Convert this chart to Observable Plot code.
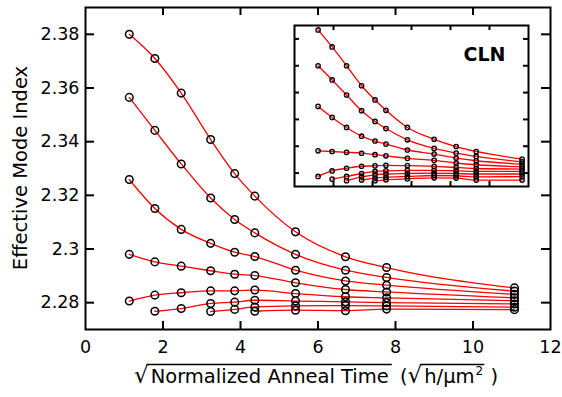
<!DOCTYPE html>
<html><head><meta charset="utf-8">
<script src="https://cdn.jsdelivr.net/npm/d3@7"></script>
<script src="https://cdn.jsdelivr.net/npm/@observablehq/plot@0.6"></script>
<style>
body{margin:0;background:#fff;}
#wrap{position:relative;width:562px;height:397px;}
#inset{position:absolute;left:292px;top:23px;}
</style></head><body><div id="wrap"><div id="main"></div><div id="inset"></div></div>
<script>
// ---- main chart data (sqrt normalized anneal time vs effective mode index)
const xMain = [1.13, 1.79, 2.47, 3.23, 3.85, 4.37, 5.42, 6.71, 7.77, 11.07];
const mainA = [2.3800, 2.3710, 2.3581, 2.3408, 2.3281, 2.3197, 2.3064, 2.2971, 2.2931, 2.2855];
const mainB = [2.3565, 2.3442, 2.3317, 2.3190, 2.3110, 2.3060, 2.2980, 2.2921, 2.2894, 2.2843];
const mainC = [2.3259, 2.3151, 2.3073, 2.3021, 2.2988, 2.2972, 2.2921, 2.2881, 2.2865, 2.2831];
const mainD = [2.2980, 2.2952, 2.2936, 2.2919, 2.2906, 2.2901, 2.2874, 2.2849, 2.2840, 2.2818];
const mainE = [2.2806, 2.2828, 2.2837, 2.2844, 2.2844, 2.2847, 2.2834, 2.2822, 2.2818, 2.2807];
const mainF = [null, 2.2768, 2.2778, 2.2797, 2.2802, 2.2809, 2.2806, 2.2803, 2.2800, 2.2795];
const mainG = [null, null, null, 2.2767, 2.2775, 2.2784, 2.2788, 2.2789, 2.2788, 2.2783];
const mainH = [null, null, null, null, null, 2.2768, 2.2772, 2.2770, 2.2776, 2.2774];

// ---- inset (CLN) data
const xInset = [1.21, 1.93, 2.67, 3.44, 4.13, 4.69, 5.79, 7.16, 8.29, 9.32, 11.67];
const cln1 = [2.3867, 2.3740, 2.3600, 2.3451, 2.3345, 2.3268, 2.3140, 2.3052, 2.2998, 2.2961, 2.2904];
const cln2 = [2.3600, 2.3494, 2.3382, 2.3265, 2.3185, 2.3132, 2.3048, 2.2984, 2.2949, 2.2924, 2.2884];
const cln3 = [2.3297, 2.3215, 2.3140, 2.3075, 2.3039, 2.3016, 2.2972, 2.2942, 2.2912, 2.2892, 2.2867];
const cln4 = [2.2966, 2.2961, 2.2955, 2.2948, 2.2937, 2.2929, 2.2910, 2.2895, 2.2875, 2.2862, 2.2847];
const cln5 = [2.2775, 2.2816, 2.2836, 2.2851, 2.2854, 2.2858, 2.2856, 2.2850, 2.2842, 2.2834, 2.2830];
const cln6 = [null, 2.2755, 2.2775, 2.2797, 2.2812, 2.2817, 2.2820, 2.2820, 2.2817, 2.2812, 2.2812];
const cln7 = [null, null, 2.2743, 2.2772, 2.2787, 2.2793, 2.2797, 2.2799, 2.2797, 2.2793, 2.2793];
const cln8 = [null, null, null, 2.2748, 2.2763, 2.2769, 2.2775, 2.2782, 2.2780, 2.2772, 2.2773];
const cln9 = [null, null, null, null, 2.2743, 2.2750, 2.2757, 2.2765, 2.2763, 2.2748, 2.2748];

// ---- ticks and labels
const xTicks = [0, 2, 4, 6, 8, 10, 12];
const xTickLabels = ["0", "2", "4", "6", "8", "10", "12"];
const yTicks = [2.28, 2.30, 2.32, 2.34, 2.36, 2.38];
const yTickLabels = ["2.28", "2.3", "2.32", "2.34", "2.36", "2.38"];
const yTitle = "Effective Mode Index";
const xTitleParts = ["√", "Normalized Anneal Time", " (", "√", "h/µm", "2", " )"];
const insetLabel = "CLN";

function toRows(xs, list) {
  const rows = [];
  list.forEach((ys, k) => ys.forEach((y, i) => { if (y != null) rows.push({x: xs[i], y, s: k}); }));
  return rows;
}
const mainRows = toRows(xMain, [mainA, mainB, mainC, mainD, mainE, mainF, mainG, mainH]);
const insetRows = toRows(xInset, [cln1, cln2, cln3, cln4, cln5, cln6, cln7, cln8, cln9]);

const W = 562, H = 397, mL = 85, mR = 12, mT = 7, mB = 68;
const fW = W - mL - mR, fH = H - mT - mB;
const inner = xTicks.slice(1, -1);

const main = Plot.plot({
  width: W, height: H,
  marginLeft: mL, marginRight: mR, marginTop: mT, marginBottom: mB,
  style: {fontFamily: "DejaVu Sans", fontSize: "17.5px", color: "#000", background: "#fff"},
  x: {domain: [0, 12]},
  y: {domain: [2.27, 2.39]},
  marks: [
    Plot.axisX(xTicks, {tickSize: 0, tickPadding: 11, tickFormat: d => xTickLabels[xTicks.indexOf(d)], label: null}),
    Plot.axisY(yTicks, {tickSize: 0, tickPadding: 6, tickFormat: d => yTickLabels[yTicks.indexOf(d)], label: null}),
    Plot.tickX(inner, {x: d => d, insetTop: fH - 8, strokeWidth: 2, stroke: "#000"}),
    Plot.tickX(inner, {x: d => d, insetBottom: fH - 8, strokeWidth: 2, stroke: "#000"}),
    Plot.tickY(yTicks, {y: d => d, insetRight: fW - 9, strokeWidth: 2, stroke: "#000"}),
    Plot.tickY(yTicks, {y: d => d, insetLeft: fW - 9, strokeWidth: 2, stroke: "#000"}),
    Plot.line(mainRows, {x: "x", y: "y", z: "s", stroke: "#ff0000", strokeWidth: 1.3, curve: "monotone-x"}),
    Plot.dot(mainRows, {x: "x", y: "y", r: 3.8, stroke: "#000", strokeWidth: 1.5, fill: "none"}),
    Plot.frame({strokeWidth: 2, stroke: "#000"})
  ]
});
document.getElementById("main").append(main);

// y-axis title
d3.select(main).append("text")
  .attr("transform", `translate(20,${mT + fH / 2}) rotate(-90)`)
  .attr("text-anchor", "middle").attr("dy", "0.35em")
  .attr("font-family", "DejaVu Sans").attr("font-size", 19.5).attr("fill", "#000")
  .text(yTitle);

// x-axis title with radical overlines
{
  const g = d3.select(main).append("g")
    .attr("font-family", "DejaVu Sans").attr("font-size", 19.5)
    .attr("fill", "#000").attr("text-anchor", "start");
  const baseY = 383;
  let x = 134;
  const spans = [];
  xTitleParts.forEach((str, i) => {
    const isSup = i === 5, isRad = str === "√";
    const t = g.append("text").attr("x", x).attr("y", isSup ? baseY - 8 : baseY).text(str);
    if (isSup) t.attr("font-size", 12);
    if (isRad) t.attr("font-size", 23);
    const w = t.node().getComputedTextLength();
    spans.push([x, x + w]);
    x += w + (isRad ? 2 : 0);
    if (i === 1) x += 5;
    if (i === 4) x += 1;
    if (i === 5) x += 1;
  });
  const lineY = 364.5;
  g.append("line").attr("x1", spans[0][1] - 2).attr("x2", spans[1][1] + 3)
    .attr("y1", lineY).attr("y2", lineY).attr("stroke", "#000").attr("stroke-width", 1.3);
  g.append("line").attr("x1", spans[3][1] - 2).attr("x2", spans[5][1] + 1)
    .attr("y1", lineY).attr("y2", lineY).attr("stroke", "#000").attr("stroke-width", 1.3);
}

// inset
const iW = 238, iH = 165, im = 2;
const ifW = iW - 2 * im, ifH = iH - 2 * im;
const inset = Plot.plot({
  width: iW, height: iH, margin: im,
  style: {fontFamily: "DejaVu Sans", background: "#fff", color: "#000"},
  x: {domain: [0, 12], axis: null},
  y: {domain: [2.27, 2.39], axis: null},
  marks: [
    Plot.tickX(inner, {x: d => d, insetTop: ifH - 5, strokeWidth: 2, stroke: "#000"}),
    Plot.tickX(inner, {x: d => d, insetBottom: ifH - 5, strokeWidth: 2, stroke: "#000"}),
    Plot.tickY(yTicks, {y: d => d, insetRight: ifW - 5, strokeWidth: 2, stroke: "#000"}),
    Plot.tickY(yTicks, {y: d => d, insetLeft: ifW - 5, strokeWidth: 2, stroke: "#000"}),
    Plot.line(insetRows, {x: "x", y: "y", z: "s", stroke: "#ff0000", strokeWidth: 1.3, curve: "monotone-x"}),
    Plot.dot(insetRows, {x: "x", y: "y", r: 2.2, stroke: "#000", strokeWidth: 1.3, fill: "none"}),
    Plot.text([insetLabel], {frameAnchor: "top-right", dx: -23, dy: 22, textAnchor: "end", fontSize: 19, fontWeight: "bold"}),
    Plot.frame({strokeWidth: 2, stroke: "#000"})
  ]
});
document.getElementById("inset").append(inset);
</script></body></html>
